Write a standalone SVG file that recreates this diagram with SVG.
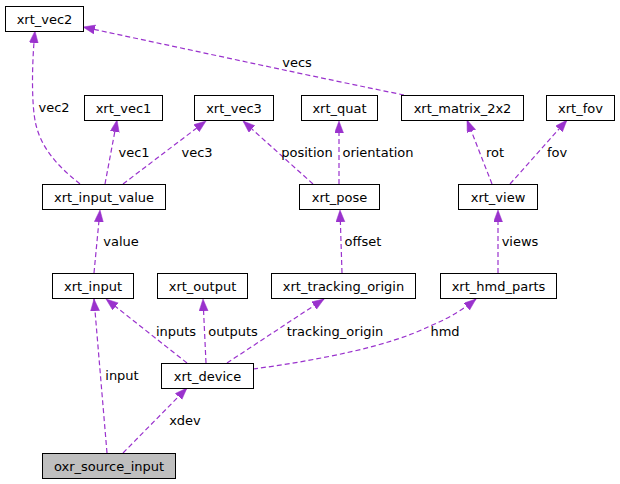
<svg xmlns="http://www.w3.org/2000/svg" width="620" height="484" viewBox="0 0 620 484">
<defs>
<marker id="ah" markerUnits="userSpaceOnUse" markerWidth="13" markerHeight="10" refX="12" refY="4.5" orient="auto">
<path d="M0,0 L12,4.5 L0,9 z" fill="#9a32cd" stroke="#9a32cd" stroke-width="0.5"/>
</marker>
<style>
.n rect{fill:#fff;stroke:#000;stroke-width:1}
.n text{font-family:"DejaVu Sans",sans-serif;font-size:13px;text-anchor:middle;fill:#000}
.root rect{fill:#bfbfbf}
#edges path{fill:none;stroke:#9a32cd;stroke-width:1.2;stroke-dasharray:5,3;marker-end:url(#ah)}
#edges text{font-family:"DejaVu Sans",sans-serif;font-size:13px;text-anchor:middle;fill:#000}
</style>
</defs>
<rect width="620" height="484" fill="#fff"/>
<g id="edges">
<path d="M80,184 C60,168 42,150 36,125 C31,105 32,60 35,31"/>
<text x="54" y="112">vec2</text>
<path d="M105,184 L117,120"/>
<text x="134" y="157">vec1</text>
<path d="M123,184 L206,121"/>
<text x="197" y="157">vec3</text>
<path d="M313,184 L243,121"/>
<text x="307" y="157">position</text>
<path d="M339,184 L339,121"/>
<text x="378" y="157">orientation</text>
<path d="M404,95 C320,78 200,52 83,27"/>
<text x="297" y="67">vecs</text>
<path d="M492,184 L467,120"/>
<text x="495" y="157">rot</text>
<path d="M510,184 L567,120"/>
<text x="557" y="157">fov</text>
<path d="M94,273 L100,210"/>
<text x="121" y="246">value</text>
<path d="M342,273 L340,210"/>
<text x="363" y="246">offset</text>
<path d="M498,273 L498,210"/>
<text x="520" y="246">views</text>
<path d="M107,453 L94,299"/>
<text x="122" y="380">input</text>
<path d="M123,453 L187,388"/>
<text x="185" y="425">xdev</text>
<path d="M187,363 L106,299"/>
<text x="176" y="336">inputs</text>
<path d="M206,363 L203,299"/>
<text x="233" y="336">outputs</text>
<path d="M227,363 L324,299"/>
<text x="335" y="336">tracking_origin</text>
<path d="M253,369 C320,360 390,346 430,326 C450,318 465,308 476,299"/>
<text x="445" y="336">hmd</text>
</g>
<g id="xrt_vec2" class="n"><rect x="5.5" y="6.5" width="78" height="25"/><text x="44.5" y="23.5">xrt_vec2</text></g>
<g id="xrt_vec1" class="n"><rect x="84.5" y="95.5" width="78" height="25"/><text x="123.5" y="112.5">xrt_vec1</text></g>
<g id="xrt_vec3" class="n"><rect x="194.5" y="95.5" width="79" height="25"/><text x="234" y="112.5">xrt_vec3</text></g>
<g id="xrt_quat" class="n"><rect x="301.5" y="95.5" width="76" height="25"/><text x="339.5" y="112.5">xrt_quat</text></g>
<g id="xrt_matrix_2x2" class="n"><rect x="401.5" y="95.5" width="122" height="25"/><text x="462.5" y="112.5">xrt_matrix_2x2</text></g>
<g id="xrt_fov" class="n"><rect x="546.5" y="95.5" width="68" height="25"/><text x="580.5" y="112.5">xrt_fov</text></g>
<g id="xrt_input_value" class="n"><rect x="42.5" y="184.5" width="123" height="25"/><text x="104" y="201.5">xrt_input_value</text></g>
<g id="xrt_pose" class="n"><rect x="299.5" y="184.5" width="80" height="25"/><text x="339.5" y="201.5">xrt_pose</text></g>
<g id="xrt_view" class="n"><rect x="458.5" y="184.5" width="79" height="25"/><text x="498" y="201.5">xrt_view</text></g>
<g id="xrt_input" class="n"><rect x="52.5" y="273.5" width="81" height="25"/><text x="93" y="290.5">xrt_input</text></g>
<g id="xrt_output" class="n"><rect x="157.5" y="273.5" width="90" height="25"/><text x="202.5" y="290.5">xrt_output</text></g>
<g id="xrt_tracking_origin" class="n"><rect x="271.5" y="273.5" width="144" height="25"/><text x="343.5" y="290.5">xrt_tracking_origin</text></g>
<g id="xrt_hmd_parts" class="n"><rect x="440.5" y="273.5" width="116" height="25"/><text x="498.5" y="290.5">xrt_hmd_parts</text></g>
<g id="xrt_device" class="n"><rect x="161.5" y="363.5" width="92" height="25"/><text x="207.5" y="380.5">xrt_device</text></g>
<g id="oxr_source_input" class="n root"><rect x="42.5" y="453.5" width="133" height="25"/><text x="109" y="470.5">oxr_source_input</text></g>
</svg>
